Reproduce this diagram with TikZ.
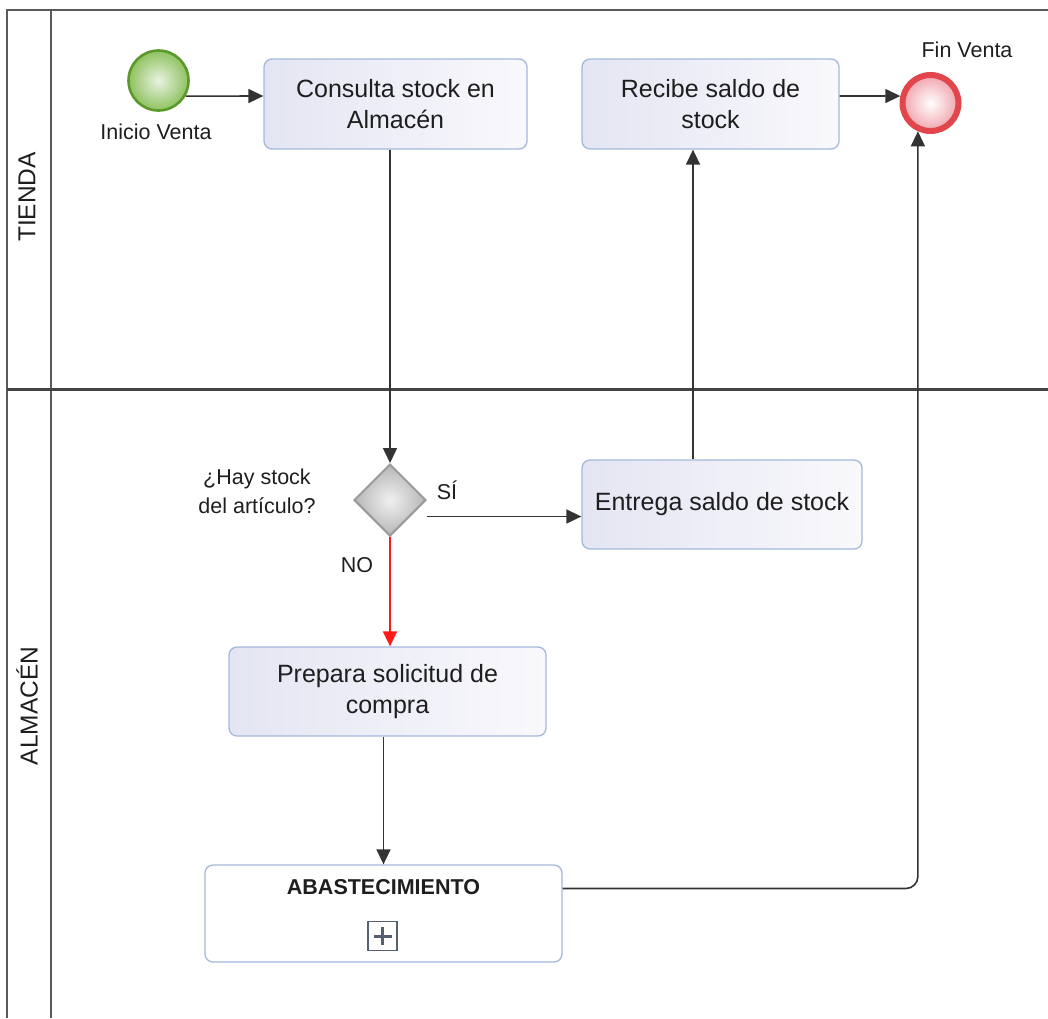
\documentclass[tikz,border=0pt]{standalone}
\usepackage{fontspec}
\setmainfont{Liberation Sans}
\usetikzlibrary{arrows.meta,shapes.geometric,calc}

\definecolor{poolline}{HTML}{5A5A5A}
\definecolor{lanedark}{HTML}{444444}
\definecolor{taskborder}{HTML}{A4B8DC}
\definecolor{taskleft}{HTML}{E3E5F2}
\definecolor{taskright}{HTML}{F9F9FC}
\definecolor{startstroke}{HTML}{5B9A2A}
\definecolor{startouter}{HTML}{8EC25F}
\definecolor{startinner}{HTML}{EAF2E2}
\definecolor{endstroke}{HTML}{E0464B}
\definecolor{endouter}{HTML}{F0A4AC}
\definecolor{gwstroke}{HTML}{9A9A9A}
\definecolor{gwouter}{HTML}{B6B6B6}
\definecolor{gwinner}{HTML}{F0F0F0}
\definecolor{flowcol}{HTML}{333333}
\definecolor{nocol}{HTML}{FF1A1A}
\definecolor{plusgray}{HTML}{556070}
\definecolor{txt}{HTML}{1E1E1E}

\begin{document}
\begin{tikzpicture}[x=1pt,y=-1pt,
  pool/.style={draw=poolline,line width=2pt},
  lanediv/.style={draw=lanedark,line width=3pt},
  lanelabel/.style={rotate=90,text=txt,font=\fontsize{24.5}{28}\selectfont},
  task/.style={draw=taskborder,line width=1.3pt,rounded corners=8pt,
    left color=taskleft,right color=taskright,align=center,inner sep=2pt,
    text=txt,font=\fontsize{25}{31}\selectfont},
  subproc/.style={draw=taskborder,line width=1.3pt,rounded corners=8pt,fill=white,inner sep=0pt},
  startev/.style={circle,draw=startstroke,line width=2.6pt,inner color=startinner,
    outer color=startouter,minimum size=60pt,inner sep=0pt},
  endev/.style={circle,draw=endstroke,line width=6pt,inner color=white,
    outer color=endouter,minimum size=56pt,inner sep=0pt},
  gateway/.style={diamond,draw=gwstroke,line width=2pt,inner color=gwinner,
    outer color=gwouter,minimum size=72pt,inner sep=0pt},
  lbl/.style={text=txt,font=\fontsize{21.5}{29}\selectfont,align=center,inner sep=0pt},
  flow/.style={draw=flowcol,line width=1.6pt,-{Triangle[length=15pt,width=14pt]}},
  noflow/.style={draw=nocol,line width=1.6pt,-{Triangle[length=15pt,width=14pt]}}
]
\useasboundingbox (0,0) rectangle (1048,1018);

% pool frame and lanes
\draw[pool] (7,1018) -- (7,10) -- (1048,10);
\draw[pool] (51,10) -- (51,1018);
\draw[lanediv] (7,389) -- (1048,389);
\node[lanelabel] (laneT) at (27,197) {TIENDA};
\node[lanelabel] (laneA) at (27,706) {ALMACÉN};

% events
\node[startev] (start) at (158.5,80.5) {};
\node[lbl] (startlbl) at (156,132) {Inicio Venta};
\node[endev] (end) at (930.5,103) {};
\node[lbl] (endlbl) at (967,50) {Fin Venta};

% tasks
\node[task,minimum width=263pt,minimum height=90pt] (con) at (395.5,104) {Consulta stock en\\Almacén};
\node[task,minimum width=257pt,minimum height=90pt] (rec) at (710.5,104) {Recibe saldo de\\stock};
\node[task,minimum width=280pt,minimum height=89pt] (ent) at (722,504.5) {Entrega saldo de stock};
\node[task,minimum width=317pt,minimum height=89pt] (pre) at (387.5,691.5) {Prepara solicitud de\\compra};

% collapsed sub-process
\node[subproc,minimum width=357pt,minimum height=97pt] (abs) at (383.5,913.5) {};
\node[lbl,font=\fontsize{21.5}{26}\selectfont\bfseries] (abstitle) at ($(abs.north)+(0,23)$) {ABASTECIMIENTO};
\node[draw=plusgray,line width=1.3pt,minimum size=29pt,inner sep=0pt,fill=white] (plus) at (382.5,936) {};
\draw[plusgray,line width=3pt] ($(plus.center)+(-9,0)$) -- ($(plus.center)+(9,0)$)
  ($(plus.center)+(0,-9)$) -- ($(plus.center)+(0,9)$);

% gateway
\node[gateway] (gw) at (390,500) {};
\node[lbl] (gwlbl) at (257,491) {¿Hay stock\\del artículo?};
\node[lbl] (silbl) at (447,490) {SÍ};
\node[lbl] (nolbl) at (357,565) {NO};

% sequence flows
\draw[flow] (start.-30) -- ($(con.west)+(0,-8)$);
\draw[flow] ($(rec.east)+(0,-8)$) -- (end.167);
\draw[flow] (con.south -| gw.north) -- (gw.north);
\coordinate (siin) at ($(ent.west)+(0,12)$);
\draw[flow] (gw.east |- siin) -- (siin);
\coordinate (entup) at ($(ent.north)+(-29,0)$);
\draw[flow] (entup) -- (entup |- rec.south);
\draw[noflow] (gw.south) -- (gw.south |- pre.north);
\draw[flow] (abs.north |- pre.south) -- (abs.north);
\coordinate (absout) at ($(abs.east)+(0,-25)$);
\draw[flow,rounded corners=12pt] (absout) -| (end.246);
\end{tikzpicture}
\end{document}
